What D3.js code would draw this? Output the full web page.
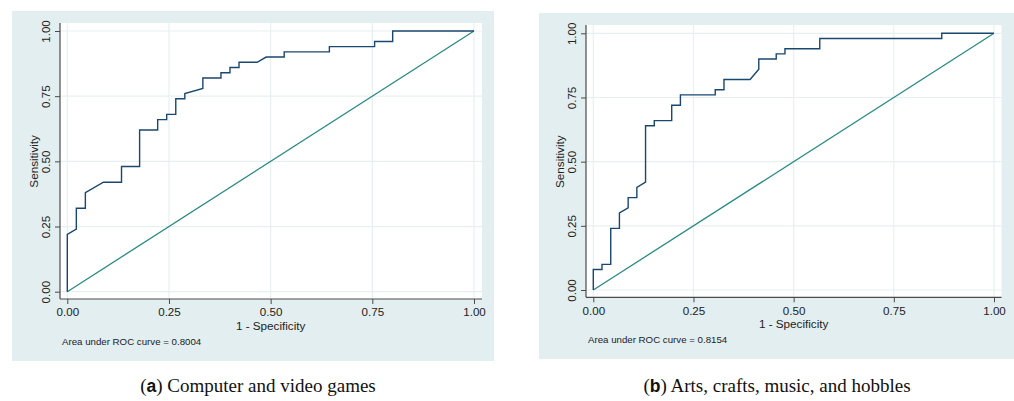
<!DOCTYPE html>
<html>
<head>
<meta charset="utf-8">
<script src="https://cdn.jsdelivr.net/npm/d3@7/dist/d3.min.js"></script>
<style>
  html, body { margin: 0; padding: 0; background: #ffffff; }
  svg { display: block; }
  .tick text { font-family: "Liberation Sans", Arial, sans-serif; }
</style>
</head>
<body>
<svg id="chart" width="1014" height="401"></svg>
<script>
// ---- data ----
const tickValues = [0, 0.25, 0.5, 0.75, 1];
const tickLabels = ["0.00", "0.25", "0.50", "0.75", "1.00"];
const xTitle = "1 - Specificity";
const yTitle = "Sensitivity";

// Panel (a): Computer and video games
const fprA = [0, 0, .0222, .0222, .0444, .0444, .0889, .1333, .1333, .1778,
              .1778, .2222, .2222, .2444, .2444, .2667, .2667, .2889, .2889, .3333,
              .3333, .3778, .3778, .4, .4, .4222, .4222, .4667, .4889, .5333,
              .5333, .6444, .6444, .7556, .7556, .8, .8, 1];
const tprA = [0, .22, .24, .32, .32, .38, .42, .42, .48, .48,
              .62, .62, .66, .66, .68, .68, .74, .74, .76, .78,
              .82, .82, .84, .84, .86, .86, .88, .88, .90, .90,
              .92, .92, .94, .94, .96, .96, 1, 1];
const aucA = "Area under ROC curve = 0.8004";
const captionA = ["a", " Computer and video games"];

// Panel (b): Arts, crafts, music, and hobbles
const fprB = [0, 0, .0217, .0217, .0435, .0435, .0652, .0652, .0870, .0870,
              .1087, .1087, .1304, .1304, .1522, .1522, .1957, .1957, .2174, .2174,
              .3043, .3043, .3261, .3261, .3913, .4130, .4130, .4565, .4565, .4783,
              .4783, .5652, .5652, .8696, .8696, 1];
const tprB = [0, .08, .08, .10, .10, .24, .24, .30, .32, .36,
              .36, .40, .42, .64, .64, .66, .66, .72, .72, .76,
              .76, .78, .78, .82, .82, .86, .90, .90, .92, .92,
              .94, .94, .98, .98, 1, 1];
const aucB = "Area under ROC curve = 0.8154";
const captionB = ["b", " Arts, crafts, music, and hobbles"];

const refLine = [0, 1];

// ---- layout ----
const panels = [
  { fpr: fprA, tpr: tprA, auc: aucA, caption: captionA,
    bg: [12, 11, 482, 350], plot: [60, 23, 482, 299],
    x: [67.3, 474], y: [291.7, 31], capX: 258 },
  { fpr: fprB, tpr: tprB, auc: aucB, caption: captionB,
    bg: [539, 13, 482, 346], plot: [586, 25, 1001.5, 297.3],
    x: [593.3, 994], y: [290, 33.3], capX: 777 }
];

const svg = d3.select("#chart");
const BG = "#e2eeef", GRID = "#e7f0f1", CURVE = "#1a476f", DIAG = "#2a8a85";
const FONT = "'Liberation Sans', Arial, sans-serif";

panels.forEach(p => {
  const g = svg.append("g");
  g.append("rect").attr("x", p.bg[0]).attr("y", p.bg[1])
    .attr("width", p.bg[2]).attr("height", p.bg[3]).attr("fill", BG);

  const [pl, pt, pr, pb] = p.plot;
  g.append("rect").attr("x", pl).attr("y", pt)
    .attr("width", pr - pl).attr("height", pb - pt).attr("fill", "#ffffff");

  const x = d3.scaleLinear().domain([0, 1]).range(p.x);
  const y = d3.scaleLinear().domain([0, 1]).range(p.y);

  // grid
  g.append("g").selectAll("line.vg").data(tickValues).join("line")
    .attr("x1", d => x(d)).attr("x2", d => x(d))
    .attr("y1", pt).attr("y2", pb)
    .attr("stroke", GRID).attr("stroke-width", 1.2);
  g.append("g").selectAll("line.hg").data(tickValues).join("line")
    .attr("x1", pl).attr("x2", pr)
    .attr("y1", d => y(d)).attr("y2", d => y(d))
    .attr("stroke", GRID).attr("stroke-width", 1.2);

  // axes
  const xAxis = d3.axisBottom(x).tickValues(tickValues)
    .tickFormat((d, i) => tickLabels[i]).tickSize(5).tickPadding(4).tickSizeOuter(0);
  const gx = g.append("g").attr("transform", `translate(0,${pb})`).call(xAxis);
  gx.select(".domain").attr("d", `M${pl},0H${pr}`).attr("stroke", "#4a4a4a").attr("stroke-width", 1.2);
  gx.selectAll(".tick line").attr("stroke", "#4a4a4a");
  gx.selectAll(".tick text").attr("font-size", 11.6).attr("fill", "#222").attr("font-family", FONT);

  const yAxis = d3.axisLeft(y).tickValues(tickValues)
    .tickFormat((d, i) => tickLabels[i]).tickSize(5).tickSizeOuter(0);
  const gy = g.append("g").attr("transform", `translate(${pl},0)`).call(yAxis);
  gy.select(".domain").attr("d", `M0,${pt}V${pb}`).attr("stroke", "#4a4a4a").attr("stroke-width", 1.2);
  gy.selectAll(".tick line").attr("stroke", "#4a4a4a");
  gy.selectAll(".tick text")
    .attr("font-size", 11.6).attr("fill", "#222").attr("font-family", FONT)
    .attr("x", 0).attr("y", -10).attr("dy", 0)
    .attr("text-anchor", "middle").attr("transform", "rotate(-90)");

  // titles
  g.append("text").attr("x", x(0.5)).attr("y", pb + 31)
    .attr("text-anchor", "middle").attr("font-family", FONT)
    .attr("font-size", 11.7).attr("fill", "#222").text(xTitle);
  g.append("text")
    .attr("transform", `translate(${pl - 22},${y(0.5)}) rotate(-90)`)
    .attr("text-anchor", "middle").attr("font-family", FONT)
    .attr("font-size", 11.7).attr("fill", "#222").text(yTitle);

  // AUC note
  g.append("text").attr("x", pl + 2).attr("y", pb + 46)
    .attr("font-family", FONT).attr("font-size", 9.7).attr("fill", "#222").text(p.auc);

  // reference line
  g.append("path")
    .datum(refLine)
    .attr("d", d3.line().x(d => x(d)).y(d => y(d)))
    .attr("fill", "none").attr("stroke", DIAG).attr("stroke-width", 1.3);

  // ROC curve
  g.append("path")
    .datum(p.fpr.map((f, i) => [f, p.tpr[i]]))
    .attr("d", d3.line().x(d => x(d[0])).y(d => y(d[1])))
    .attr("fill", "none").attr("stroke", CURVE).attr("stroke-width", 1.4)
    .attr("stroke-linejoin", "miter");

  // caption
  const cap = svg.append("text").attr("x", p.capX).attr("y", 392)
    .attr("text-anchor", "middle")
    .attr("font-family", "'Liberation Serif', 'Times New Roman', serif")
    .attr("font-size", 19).attr("fill", "#111");
  cap.append("tspan").text("(");
  cap.append("tspan").attr("font-weight", "bold").attr("font-family", "'Liberation Sans', Arial, sans-serif").attr("font-size", 17.5).text(p.caption[0]);
  cap.append("tspan").text(")" + p.caption[1]);
});
</script>
</body>
</html>
